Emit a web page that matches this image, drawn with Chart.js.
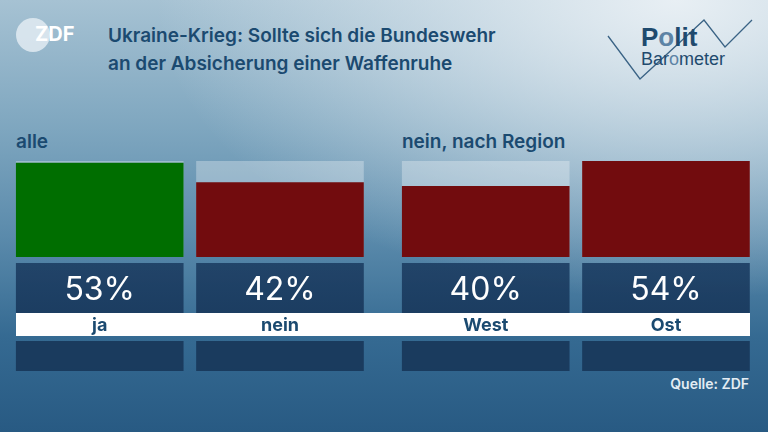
<!DOCTYPE html>
<html>
<head>
<meta charset="utf-8">
<script src="https://cdn.jsdelivr.net/npm/chart.js@4/dist/chart.umd.min.js"></script>
<style>
  html, body { margin: 0; padding: 0; }
  body {
    width: 768px; height: 432px; overflow: hidden; position: relative;
    font-family: Inter, "Noto Sans", sans-serif;
    background:
      radial-gradient(ellipse 520px 300px at 88% 0%, rgba(232,239,244,1) 0%, rgba(232,239,244,0) 100%),
      linear-gradient(to bottom, #a6c2d3 0%, #7ea6bf 30%, #5a8aab 55%, #356a92 78%, #285a83 100%);
  }
  .logo { position: absolute; left: 16px; top: 18px; width: 34px; height: 34px; border-radius: 50%; background: rgba(235,242,247,0.75); }
  .logo-txt { position: absolute; left: 35px; top: 22px; color: #fff; font: 700 20px Inter, sans-serif; letter-spacing: 0; }
  .title { position: absolute; left: 108px; top: 22px; color: #1b4a70; font-size: 19px; font-weight: 600; line-height: 28px; }
  .sect { position: absolute; top: 130px; color: #1b4a70; font-size: 19px; font-weight: 600; }
  .strip { position: absolute; left: 16px; top: 313px; width: 734px; height: 23px; background: #fff; }
  .src { position: absolute; right: 19px; top: 375px; color: #e3ecf3; font-size: 14px; font-weight: 600; }
  .pb { position: absolute; left: 600px; top: 0; }
  canvas { position: absolute; top: 0; }
</style>
</head>
<body>
<div class="logo"></div>
<div class="logo-txt">ZDF</div>
<div class="title">Ukraine-Krieg: Sollte sich die Bundeswehr<br>an der Absicherung einer Waffenruhe</div>
<svg class="pb" width="168" height="90">
  <polyline points="8,36 40,79 104,20 125,47 152,20" fill="none" stroke="#3a6385" stroke-width="1.3"/>
  <text x="41" y="46" font-family="Liberation Sans, Arial" font-weight="700" font-size="26" fill="#1f4a6e">P<tspan fill="#5d83a5">o</tspan>lit</text>
  <text x="41" y="65" font-family="Liberation Sans, Arial" font-size="18" fill="#1f4a6e">Bar<tspan fill="#5d83a5">o</tspan>meter</text>
</svg>
<div class="sect" style="left:16px">alle</div>
<div class="sect" style="left:402px">nein, nach Region</div>
<div class="strip"></div>
<div class="src">Quelle: ZDF</div>
<canvas id="chartAlle" width="384" height="432" style="left:0"></canvas>
<canvas id="chartRegion" width="384" height="432" style="left:384px"></canvas>
<script>
// Werte aus der Grafik
const labelsAlle = ['ja', 'nein'];
const valuesAlle = [53, 42];
const colorsAlle = ['#006e00', '#720c0e'];

const labelsRegion = ['West', 'Ost'];
const valuesRegion = [40, 54];
const colorsRegion = ['#720c0e', '#720c0e'];

const yMax = Math.max(...valuesAlle, ...valuesRegion);

// Kästen mit Prozentwert, Beschriftung auf weißem Streifen, Kasten darunter
const boxPlugin = {
    id: 'boxes',
    afterDatasetsDraw(chart) {
        const ctx = chart.ctx;
        const meta = chart.getDatasetMeta(1);
        const data = chart.data.datasets[1].data;
        meta.data.forEach(function(bar, i) {
            const left = bar.x - bar.width / 2;
            const w = bar.width;
            const g = ctx.createLinearGradient(0, 263, 0, 313);
            g.addColorStop(0, 'rgba(31,65,102,0.95)');
            g.addColorStop(1, 'rgba(26,58,94,0.95)');
            ctx.save();
            ctx.fillStyle = g;
            ctx.fillRect(left, 263, w, 50);
            ctx.fillStyle = 'rgba(24,55,90,0.92)';
            ctx.fillRect(left, 341, w, 30);
            ctx.fillStyle = '#ffffff';
            ctx.textAlign = 'center';
            ctx.textBaseline = 'alphabetic';
            ctx.font = '400 32px Inter, sans-serif';
            ctx.fillText(data[i] + '%', bar.x, 300);
            ctx.fillStyle = '#1b4a70';
            ctx.font = '700 18px Inter, sans-serif';
            ctx.fillText(chart.data.labels[i], bar.x, 331);
            ctx.restore();
        });
    }
};

function makeChart(id, labels, values, colors, padLeft, padRight) {
    const ctx = document.getElementById(id).getContext('2d');
    return new Chart(ctx, {
        type: 'bar',
        data: {
            labels: labels,
            datasets: [
                {
                    data: values.map(function() { return yMax; }),
                    backgroundColor: 'rgba(255,255,255,0.3)',
                    grouped: false,
                    order: 2
                },
                {
                    data: values,
                    backgroundColor: colors,
                    grouped: false,
                    order: 1
                }
            ]
        },
        options: {
            responsive: false,
            animation: false,
            layout: { padding: { top: 161, bottom: 175, left: padLeft, right: padRight } },
            datasets: { bar: { barPercentage: 0.93, categoryPercentage: 1 } },
            scales: {
                x: { display: false },
                y: { display: false, min: 0, max: yMax }
            },
            plugins: {
                legend: { display: false },
                tooltip: { enabled: false }
            }
        },
        plugins: [boxPlugin]
    });
}

makeChart('chartAlle', labelsAlle, valuesAlle, colorsAlle, 9.6, 13.9);
makeChart('chartRegion', labelsRegion, valuesRegion, colorsRegion, 11.6, 11.9);
</script>
</body>
</html>
